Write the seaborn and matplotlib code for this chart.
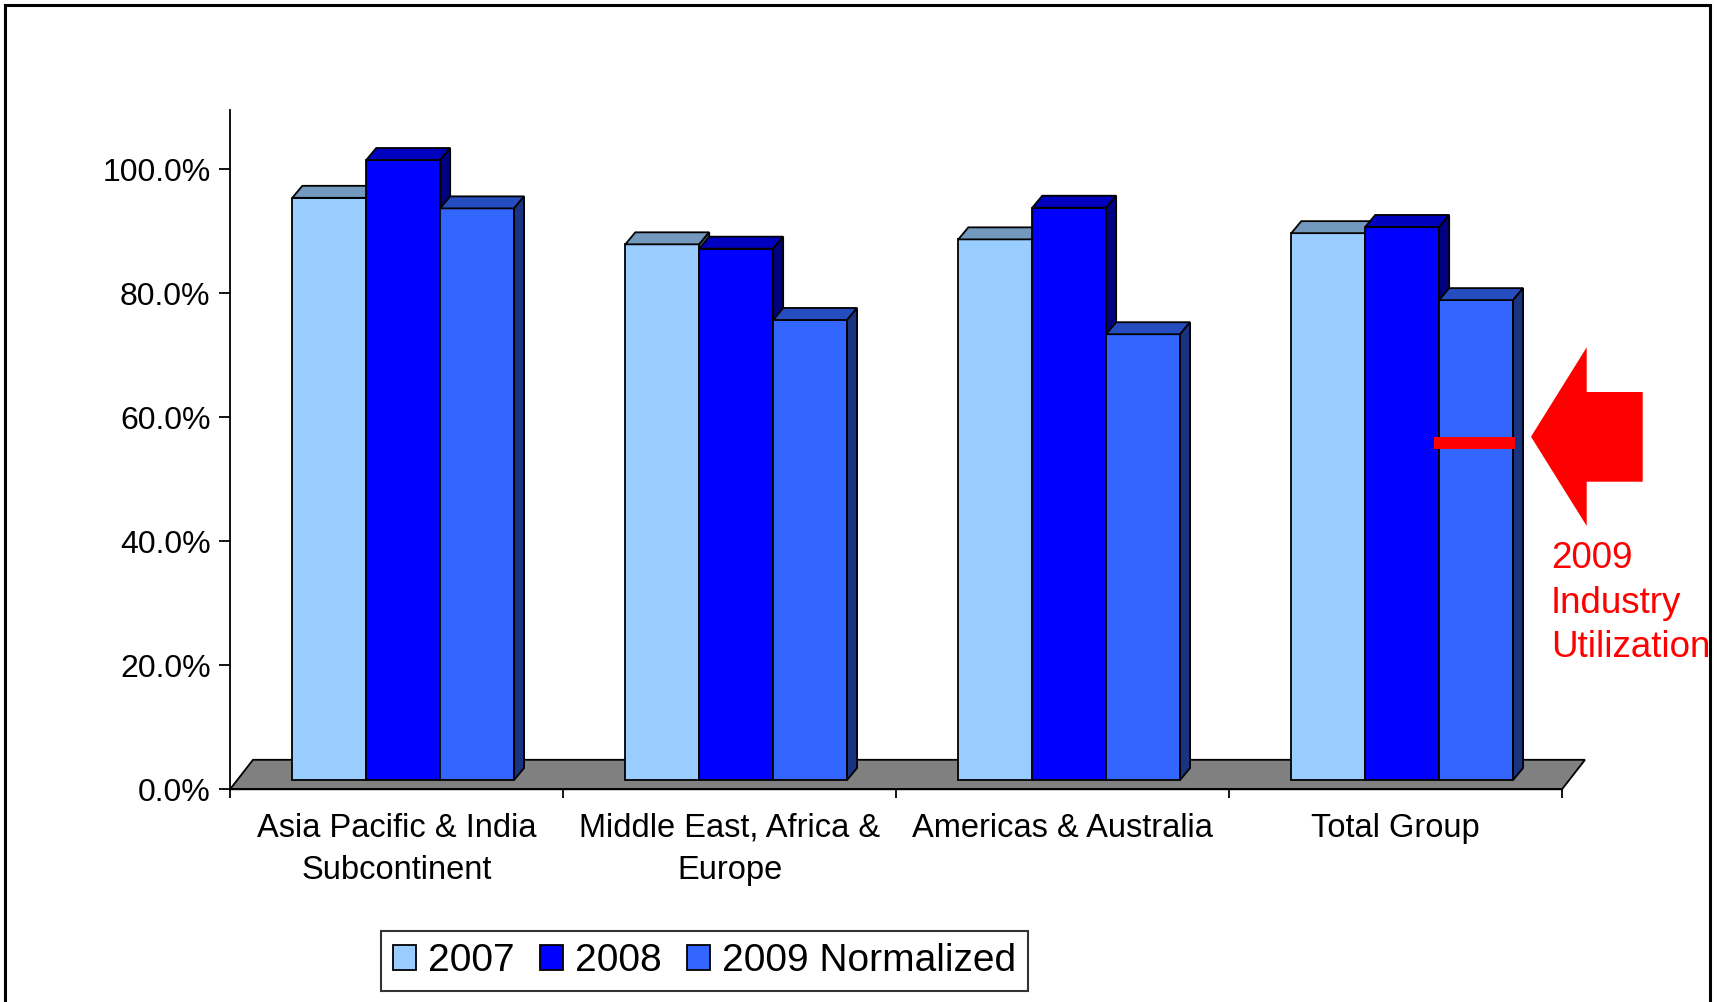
import matplotlib
matplotlib.use("Agg")
import matplotlib.pyplot as plt
import matplotlib.colors as mcolors
from matplotlib.patches import Polygon, Rectangle, Patch
import pandas as pd
import seaborn as sns

regions = ["Asia Pacific & India\nSubcontinent", "Middle East, Africa &\nEurope",
           "Americas & Australia", "Total Group"]
series = ["2007", "2008", "2009 Normalized"]
v2007 = [93.9, 86.4, 87.2, 88.2]
v2008 = [100.0, 85.7, 92.3, 89.2]
v2009 = [92.2, 74.2, 71.9, 77.4]
industry_2009 = 54.4
colors = ["#99CCFF", "#0000FF", "#3366FF"]

df = pd.DataFrame({
    "region": regions * 3,
    "series": [s for s in series for _ in regions],
    "value": v2007 + v2008 + v2009,
})

sns.set_theme(style="white", rc={"text.color": "black"})
plt.rcParams['font.family'] = ['Liberation Sans', 'DejaVu Sans']

W, H = 1717, 1002
fig = plt.figure(figsize=(W / 100, H / 100), dpi=100)
ax = fig.add_axes([230 / W, (H - 789.3) / H, (1562 - 230) / W, (789.3 - 109.5) / H])

sns.barplot(data=df, x="region", y="value", hue="series", palette=colors,
            width=0.666, saturation=1, edgecolor="black", linewidth=1.3,
            legend=False, ax=ax)
bars = [p for p in ax.patches if isinstance(p, Rectangle)]
bars = sorted(bars, key=lambda p: p.get_x())

ymax = (789.3 - 109.5) / 6.2
ax.set_xlim(-0.5, 3.5)
ax.set_ylim(0, ymax)

# data units per pixel
xpp = 4 / (1562 - 230)
ypp = ymax / (789.3 - 109.5)

# floor slab
fdx, fdy = 23 * xpp, 29.5 * ypp
ax.add_patch(Polygon([(-0.5, 0), (3.5, 0), (3.5 + fdx, fdy), (-0.5 + fdx, fdy)],
                     closed=True, fc="#808080", ec="black", lw=1.3,
                     clip_on=False, zorder=1.5))

# fake 3d faces on bars
lift = 9.3 * ypp
shift = 6.7 * xpp
bdx, bdy = 10 * xpp, 12 * ypp
for i, b in enumerate(bars):
    b.set_x(b.get_x() + shift)
    b.set_y(lift)
    b.set_zorder(3 + i)
    b.set_clip_on(False)
    x0, x1 = b.get_x(), b.get_x() + b.get_width()
    y0, y1 = lift, lift + b.get_height()
    rgb = mcolors.to_rgb(b.get_facecolor())
    top_c = tuple(c * 0.75 for c in rgb)
    side_c = tuple(c * 0.5 for c in rgb)
    ax.add_patch(Polygon([(x0, y1), (x1, y1), (x1 + bdx, y1 + bdy), (x0 + bdx, y1 + bdy)],
                         closed=True, fc=top_c, ec="black", lw=1.3, joinstyle="miter",
                         clip_on=False, zorder=3 + i + 0.3))
    ax.add_patch(Polygon([(x1, y0), (x1, y1), (x1 + bdx, y1 + bdy), (x1 + bdx, y0 + bdy)],
                         closed=True, fc=side_c, ec="black", lw=1.3, joinstyle="miter",
                         clip_on=False, zorder=3 + i + 0.3))

# industry utilization marker on the Total Group 2009 bar
last = bars[-1]
ax.hlines(industry_2009 + lift, last.get_x() - 5 * xpp, last.get_x() + last.get_width() + 2 * xpp,
          colors="#FF0000", linewidth=8.6, zorder=40, clip_on=False)

# axes styling
sns.despine(ax=ax, top=True, right=True)
for s in ["left", "bottom"]:
    ax.spines[s].set_color("black")
    ax.spines[s].set_linewidth(1.3)
yt = [0, 20, 40, 60, 80, 100]
ax.set_yticks(yt)
ax.set_yticklabels([f"{v:.1f}%" for v in yt])
ax.set_xticks(range(len(regions)))
ax.set_xticklabels(regions, linespacing=1.45)
ax.set_xticks([-0.5, 0.5, 1.5, 2.5, 3.5], minor=True)
ax.tick_params(axis="x", which="major", length=0, pad=17, labelsize=23.5,
               labelcolor="black")
ax.tick_params(axis="x", which="minor", length=6.5, width=1.3, direction="out",
               color="black", bottom=True)
ax.tick_params(axis="y", length=8, width=1.3, direction="out", color="black",
               left=True, pad=6, labelsize=23, labelcolor="black")
ax.set_xlabel("")
ax.set_ylabel("")
ax.set_facecolor("none")

# legend
handles = [Patch(facecolor=c, edgecolor="black", linewidth=1.3) for c in colors]
leg = fig.legend(handles, series, loc="center", bbox_to_anchor=(704.5 / W, 41 / H),
                 ncol=3, frameon=True, fancybox=False, fontsize=28, labelcolor="black",
                 handlelength=0.6, handleheight=0.6, handletextpad=0.3,
                 columnspacing=0.65, borderpad=0.3, borderaxespad=0)
leg.get_frame().set_edgecolor("black")
leg.get_frame().set_linewidth(1.5)

# red arrow and note
arrow_px = [(1531, 436.7), (1586.7, 347.3), (1586.7, 392), (1642.7, 392),
            (1642.7, 481.7), (1586.7, 481.7), (1586.7, 526)]
fig.patches.append(Polygon([(x / W, (H - y) / H) for x, y in arrow_px], closed=True,
                           fc="#FF0000", ec="none", transform=fig.transFigure))
fig.text(1551 / W, (H - 541) / H, "2009\nIndustry\nUtilization", color="#FF0000",
         fontsize=26.5, ha="left", va="top", linespacing=1.36)

# outer border
fig.patches.append(Rectangle((5 / W, -0.02), (1710 - 5) / W, (H - 5) / H + 0.02,
                             fill=False, ec="black", lw=2.2, transform=fig.transFigure))

fig.savefig("out.png", dpi=100)
